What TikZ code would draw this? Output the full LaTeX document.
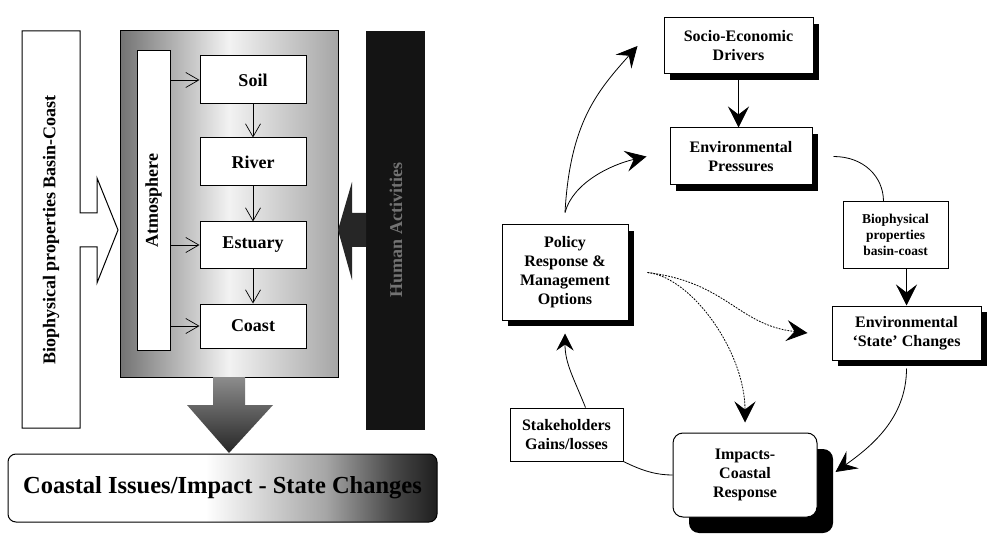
\documentclass[tikz,border=0pt]{standalone}
\usepackage{fontspec}
\setmainfont{Liberation Serif}
\usetikzlibrary{arrows.meta,shadows}

\newcommand{\leftfont}{\fontsize{18}{20}\selectfont\bfseries}
\newcommand{\rightfont}{\fontsize{16}{19}\selectfont\bfseries}
\newcommand{\smallfont}{\fontsize{13.5}{16}\selectfont\bfseries}

\pgfdeclarehorizontalshading{issueshade}{100bp}{color(0bp)=(white); color(25bp)=(white); color(48bp)=(white); color(62bp)=(black!35); color(70bp)=(black!72); color(75bp)=(black!88); color(100bp)=(black!88)}

\begin{document}
\begin{tikzpicture}[x=1pt,y=-1pt,
	unit/.style={draw, fill=white, line width=1pt, minimum width=106pt, minimum height=46pt, font=\leftfont},
	vee/.style={-{Straight Barb[length=13pt,width=15pt]}, line width=0.7pt},
	plate/.style={draw, fill=white, line width=1pt, align=center, font=\rightfont},
	stage/.style={plate, drop shadow={shadow xshift=6pt, shadow yshift=-6pt, fill=black, opacity=1}},
	bigtip/.style={-{Stealth[length=21pt,width=21pt,inset=8pt]}, line width=0.8pt},
	dots/.style={dash pattern=on 1.8pt off 1.2pt, line width=1.4pt}
]

	\path[use as bounding box, fill=white] (0,0) rectangle (988,556);

	% left: basin-coast chain
	\draw[fill=white, line width=1pt] (22,31) -- (80,31) -- (80,213) -- (97,213) -- (97,178) -- (118,230) -- (97,283) -- (97,247) -- (80,247) -- (80,428) -- (22,428) -- cycle;
	\node[rotate=90, font=\leftfont] (bio) at (51,230) {Biophysical properties Basin-Coast};

	\node[draw, line width=1pt, minimum width=218pt, minimum height=346pt, left color=black!55, right color=black!35, middle color=black!5] (basin) at (229,204) {};
	\node[draw, fill=white, line width=1pt, minimum width=33pt, minimum height=299pt] (atmo) at (153.5,200.5) {};
	\node[rotate=90, font=\leftfont] (atmotext) at (atmo) {Atmosphere};

	\node[unit, minimum height=48pt] (soil) at (253,80) {Soil};
	\node[unit, minimum height=48pt] (river) at (253,162) {River};
	\node[unit] (estuary) at (253,245) {Estuary};
	\node[unit, minimum height=44pt] (coast) at (253,326) {Coast};

	\draw[vee] (atmo.east |- soil.west) -- (soil.west);
	\draw[vee] (atmo.east |- estuary.west) -- (estuary.west);
	\draw[vee] (atmo.east |- coast.west) -- (coast.west);
	\draw[vee] (soil) -- (river);
	\draw[vee] (river) -- (estuary);
	\draw[vee] (estuary) -- (coast);

	% human activities
	\fill[black!92] (366,31) rectangle (425,430);
	\fill[black!85] (366,213) -- (352,213) -- (352,182) -- (338,230) -- (352,280) -- (352,247) -- (366,247) -- cycle;
	\node[rotate=90, font=\leftfont, text=black!55] (human) at (396,230) {Human Activities};

	\shade[top color=black!45, bottom color=black!85] (213,377) -- (245,377) -- (245,405) -- (273,405) -- (229,453) -- (187,405) -- (213,405) -- cycle;

	\node[draw, line width=1pt, rounded corners=8pt, shade, shading=issueshade, minimum width=429pt, minimum height=68pt, font=\fontsize{24.5}{26}\selectfont\bfseries] (issues) at (222.5,488) {Coastal Issues/Impact - State Changes};

	% right: policy cycle
	\node[stage, minimum width=149pt, minimum height=56pt] (socio) at (738.5,46) {Socio-Economic\\Drivers};
	\node[stage, minimum width=142pt, minimum height=57pt] (press) at (741,156.5) {Environmental\\Pressures};
	\node[plate, font=\smallfont, minimum width=105pt, minimum height=66pt] (bioc) at (895.5,235) {Biophysical\\properties\\basin-coast};
	\node[stage, minimum width=149pt, minimum height=54pt] (state) at (906.5,333) {Environmental\\`State' Changes};
	\node[plate, rounded corners=10pt, minimum width=144pt, minimum height=84pt, drop shadow={shadow xshift=16pt, shadow yshift=-16pt, fill=black, opacity=1}] (impact) at (745,475) {Impacts-\\Coastal\\Response};
	\node[plate, minimum width=113pt, minimum height=53pt] (stake) at (566.5,434.5) {Stakeholders\\Gains/losses};
	\node[stage, minimum width=126pt, minimum height=95pt] (policy) at (565,272.5) {Policy\\Response \&\\Management\\Options};

	\draw[bigtip] (socio.south) -- (socio.south |- press.north);
	\draw[line width=0.8pt] ([xshift=21pt]press.east) .. controls +(30,0) and +(0,-25) .. ([xshift=-12pt]bioc.north);
	\draw[bigtip] (bioc.south -| state.north) -- (state.north);
	\draw[bigtip] ([yshift=-8pt]state.south) .. controls +(0,50) and +(35,-25) .. ([xshift=18pt,yshift=3pt]impact.east);
	\draw[line width=0.8pt] (stake.south east) .. controls +(20,10) and +(-15,0) .. (impact.west);
	\draw[-{Stealth[length=17pt,width=17pt,inset=6pt]}, line width=0.8pt] ([xshift=19pt]stake.north) .. controls +(-12,-30) and +(0,30) .. ([yshift=-13pt]policy.south);
	\draw[bigtip] ([yshift=12pt]policy.north) .. controls +(5,-90) and +(-40,45) .. ([xshift=-26pt]socio.west);
	\draw[bigtip] ([yshift=12pt]policy.north) .. controls +(8,-30) and +(-35,8) .. ([xshift=-23pt]press.west);
	\draw[dots, bigtip] ([xshift=19pt]policy.east) .. controls +(80,10) and +(-70,-8) .. ([xshift=-24pt]state.west);
	\draw[dots, bigtip] ([xshift=19pt]policy.east) .. controls +(45,5) and +(0,-70) .. ([yshift=10pt]impact.north);

\end{tikzpicture}
\end{document}
